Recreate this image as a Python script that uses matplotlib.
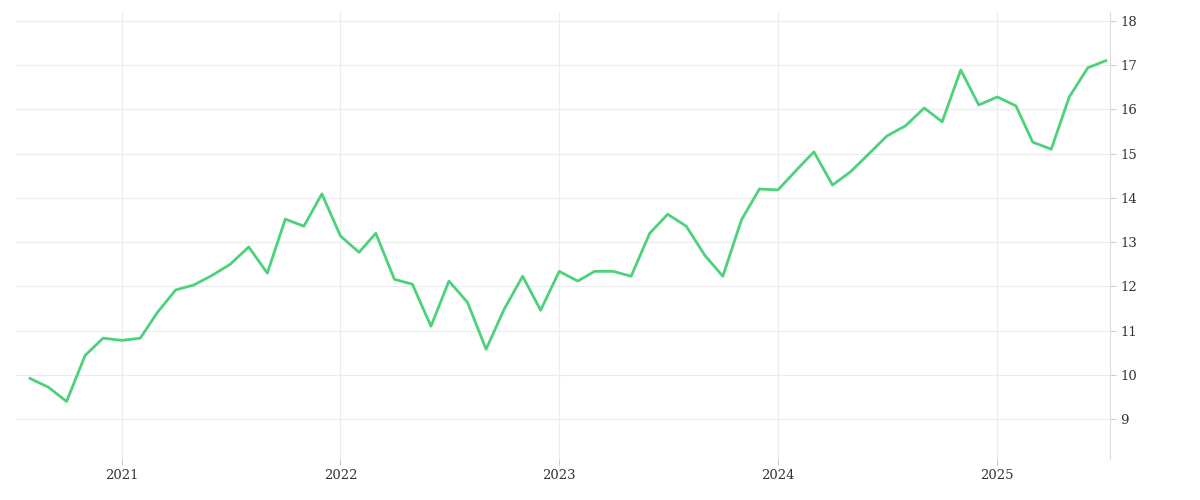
import matplotlib
matplotlib.use("Agg")
import matplotlib.pyplot as plt
import pandas as pd

dates = pd.date_range("2020-08-01", periods=60, freq="MS")
values = [9.92, 9.72, 9.4, 10.44, 10.83, 10.78, 10.83, 11.4, 11.92, 12.03,
          12.25, 12.5, 12.89, 12.3, 13.52, 13.36, 14.09, 13.14, 12.77, 13.2,
          12.16, 12.05, 11.1, 12.12, 11.64, 10.58, 11.48, 12.23, 11.46, 12.34,
          12.12, 12.34, 12.34, 12.23, 13.2, 13.63, 13.36, 12.7, 12.23, 13.5,
          14.2, 14.18, 14.63, 15.04, 14.29, 14.59, 15.0, 15.4, 15.63, 16.03,
          15.72, 16.89, 16.1, 16.28, 16.08, 15.26, 15.1, 16.28, 16.94, 17.1]
yticks = [9, 10, 11, 12, 13, 14, 15, 16, 17, 18]
xticks = pd.to_datetime(["2021-01-01", "2022-01-01", "2023-01-01", "2024-01-01", "2025-01-01"])
xlabels = ["2021", "2022", "2023", "2024", "2025"]

fig = plt.figure(figsize=(12, 5), dpi=100)
ax = fig.add_axes([15/1200, 1-459/500, (1110-15)/1200, (459-12)/500])
ax.plot(dates, values, color="#4cd27a", lw=2.0)
ax.set_xlim(pd.Timestamp("2020-07-07"), pd.Timestamp("2025-07-08"))
ax.set_ylim(8.1, 18.2)
ax.yaxis.tick_right()
ax.set_yticks(yticks)
ax.set_xticks(xticks)
ax.set_xticklabels(xlabels)
for lab in ax.get_xticklabels() + ax.get_yticklabels():
    lab.set_fontfamily("DejaVu Serif")
    lab.set_fontsize(9.5)
    lab.set_color("#333333")
ax.tick_params(axis="both", length=4, color="#cccccc")
ax.grid(True, color="#ececec", lw=0.8)
for s in ["left", "top", "bottom"]:
    ax.spines[s].set_visible(False)
ax.spines["right"].set_color("#dddddd")
fig.savefig("out.png")
